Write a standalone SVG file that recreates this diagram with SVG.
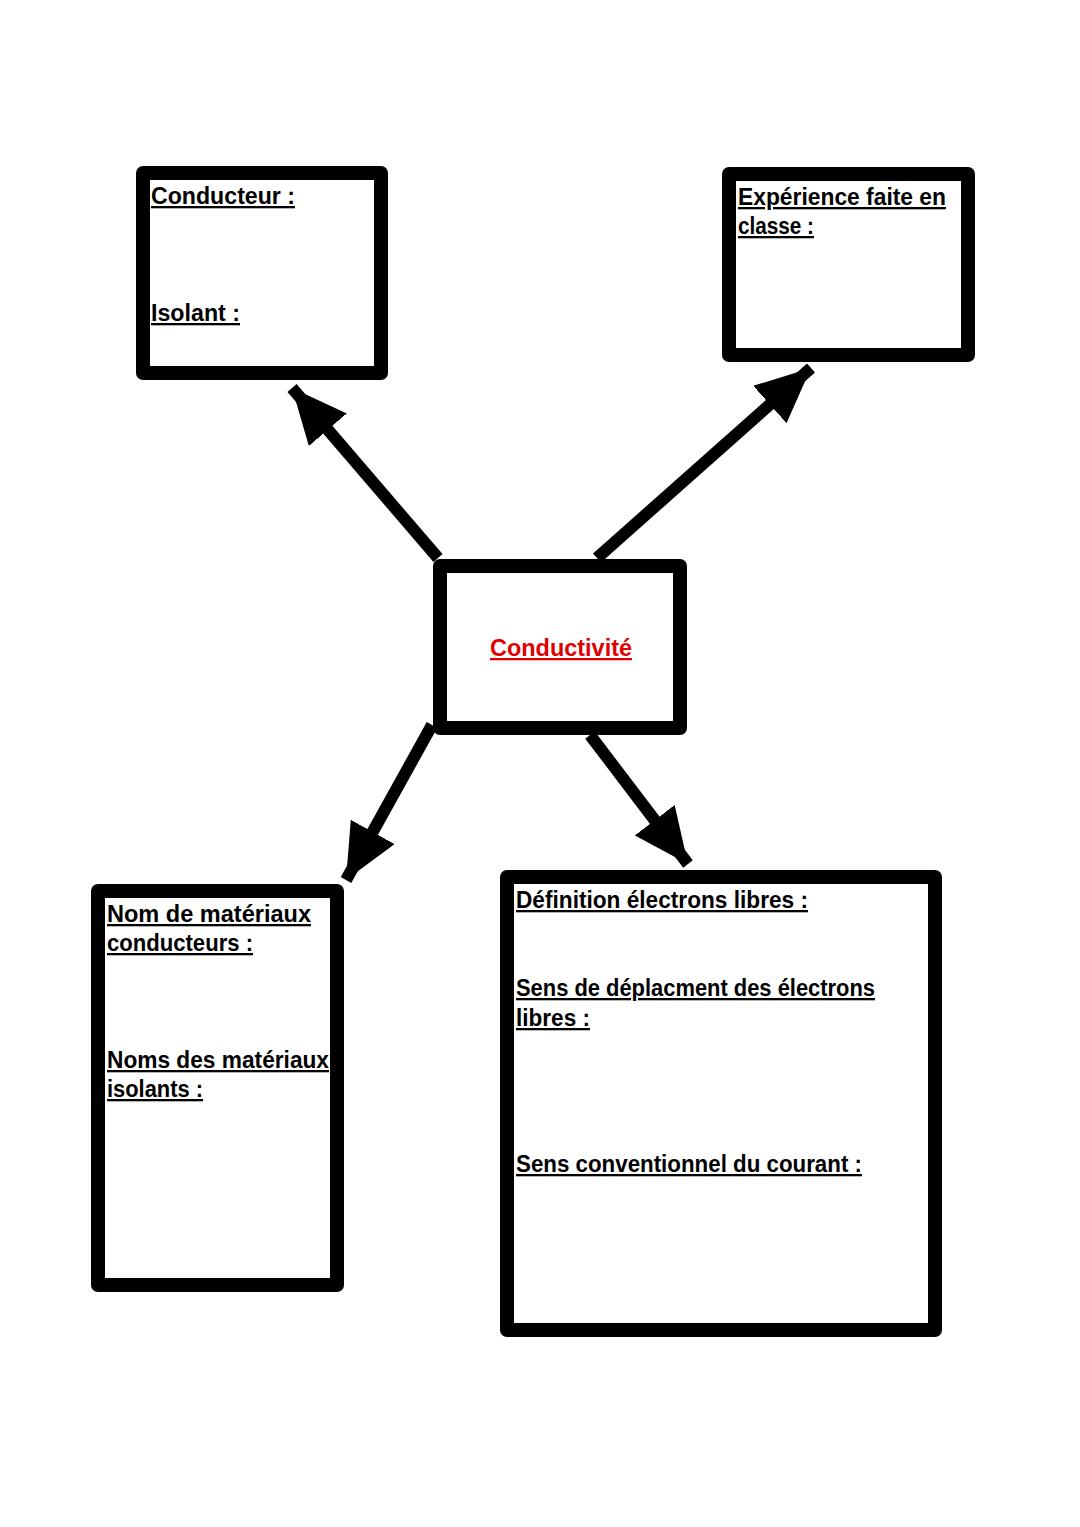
<svg xmlns="http://www.w3.org/2000/svg" width="1080" height="1527" viewBox="0 0 1080 1527">
<style>
.box{fill:none;stroke:#000;stroke-width:14;stroke-linejoin:round}
.t{font-family:"Liberation Sans",Arial,sans-serif;font-weight:bold;font-size:23px;text-decoration:underline;fill:#000}
.c{stroke:#000;stroke-width:12;fill:none}
</style>
<defs>
<marker id="ah" markerUnits="userSpaceOnUse" markerWidth="60" markerHeight="50" refX="55" refY="25" orient="auto">
<path d="M0,0 L55,25 L0,50 Z" fill="#000"/>
</marker>
</defs>
<rect width="1080" height="1527" fill="#fff"/>
<g id="connectors">
<line class="c" x1="438" y1="558" x2="292" y2="388" marker-end="url(#ah)"/>
<line class="c" x1="597" y1="558" x2="811" y2="368" marker-end="url(#ah)"/>
<line class="c" x1="432" y1="725" x2="346" y2="880" marker-end="url(#ah)"/>
<line class="c" x1="590" y1="735" x2="688" y2="864" marker-end="url(#ah)"/>
</g>
<g id="n1"><rect class="box" x="143" y="173" width="238" height="200"/>
<text class="t" x="151" y="204" textLength="144" lengthAdjust="spacingAndGlyphs">Conducteur :</text>
<text class="t" x="151" y="321" textLength="89" lengthAdjust="spacingAndGlyphs">Isolant :</text></g>
<g id="n2"><rect class="box" x="729" y="174" width="239" height="181"/>
<text class="t" x="738" y="205" textLength="208" lengthAdjust="spacingAndGlyphs">Expérience faite en</text>
<text class="t" x="738" y="234" textLength="76" lengthAdjust="spacingAndGlyphs">classe :</text></g>
<g id="n3"><rect class="box" x="440" y="566" width="240" height="162"/>
<text class="t" x="490" y="656" textLength="142" lengthAdjust="spacingAndGlyphs" style="fill:#e00000">Conductivité</text></g>
<g id="n4"><rect class="box" x="98" y="891" width="239" height="394"/>
<text class="t" x="107" y="922" textLength="204" lengthAdjust="spacingAndGlyphs">Nom de matériaux</text>
<text class="t" x="107" y="951" textLength="146" lengthAdjust="spacingAndGlyphs">conducteurs :</text>
<text class="t" x="107" y="1068" textLength="222" lengthAdjust="spacingAndGlyphs">Noms des matériaux</text>
<text class="t" x="107" y="1097" textLength="96" lengthAdjust="spacingAndGlyphs">isolants :</text></g>
<g id="n5"><rect class="box" x="507" y="877" width="428" height="453"/>
<text class="t" x="516" y="908" textLength="292" lengthAdjust="spacingAndGlyphs">Définition électrons libres :</text>
<text class="t" x="516" y="996" textLength="359" lengthAdjust="spacingAndGlyphs">Sens de déplacment des électrons</text>
<text class="t" x="516" y="1026" textLength="74" lengthAdjust="spacingAndGlyphs">libres :</text>
<text class="t" x="516" y="1172" textLength="346" lengthAdjust="spacingAndGlyphs">Sens conventionnel du courant :</text></g>
</svg>
